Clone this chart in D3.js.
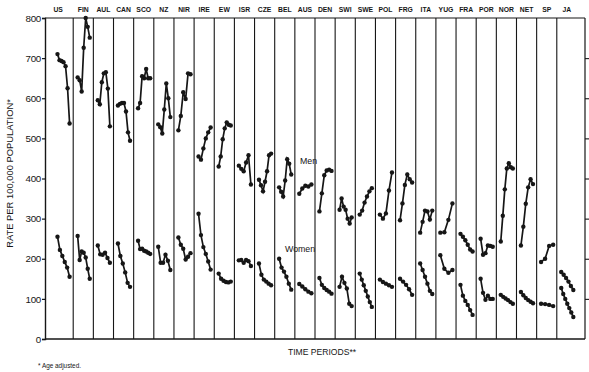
<!DOCTYPE html>
<html>
<head>
<meta charset="utf-8">
<script src="https://cdn.jsdelivr.net/npm/d3@7"></script>
<style>
  body { margin: 0; background: #fff; }
  svg { font-family: "Liberation Sans", Arial, sans-serif; }
</style>
</head>
<body>
<div id="chart"></div>
<script>
// countries, left to right
var countries = ["US","FIN","AUL","CAN","SCO","NZ","NIR","IRE","EW","ISR","CZE","BEL","AUS",
                 "DEN","SWI","SWE","POL","FRG","ITA","YUG","FRA","POR","NOR","NET","SP","JA"];

// rate per 100,000, one list per country, successive time periods
var menRates = [
  [710, 695, 693, 690, 680, 625, 537],
  [652, 645, 617, 726, 800, 778, 751],
  [595, 585, 640, 662, 665, 624, 530],
  [582, 586, 588, 588, 567, 515, 494],
  [575, 588, 655, 650, 673, 650, 650],
  [535, 528, 512, 572, 637, 600, 553],
  [520, 556, 615, 598, 662, 660],
  [455, 447, 475, 500, 515, 527],
  [430, 455, 498, 525, 540, 534, 532],
  [432, 424, 418, 440, 458, 385],
  [397, 383, 368, 392, 418, 458, 462],
  [378, 367, 355, 395, 448, 437, 410],
  [362, 375, 382, 380, 385],
  [318, 363, 408, 420, 422, 419],
  [322, 350, 330, 322, 300, 288, 303],
  [310, 320, 340, 355, 368, 376],
  [310, 300, 313, 370, 415],
  [296, 338, 384, 410, 398, 390],
  [265, 292, 320, 318, 298, 320],
  [265, 266, 297, 338],
  [262, 255, 246, 235, 223, 218],
  [250, 210, 214, 233, 232, 230],
  [243, 307, 373, 425, 438, 428, 425],
  [233, 280, 337, 378, 398, 386],
  [192, 200, 232, 235],
  [167, 160, 152, 143, 132, 122]
];

var womenRates = [
  [255, 222, 207, 192, 178, 155],
  [257, 197, 218, 215, 203, 175, 150],
  [233, 211, 210, 215, 202, 190],
  [238, 207, 188, 166, 140, 130],
  [245, 224, 225, 220, 218, 215, 212],
  [230, 190, 190, 210, 195, 172],
  [253, 235, 225, 198, 205, 214],
  [312, 259, 229, 212, 193, 173],
  [163, 150, 145, 142, 141, 143],
  [196, 197, 190, 197, 194, 182],
  [188, 160, 148, 143, 138, 134],
  [200, 178, 168, 155, 138, 123],
  [137, 131, 124, 118, 114],
  [152, 135, 127, 122, 118, 113],
  [130, 155, 140, 126, 88, 82],
  [163, 148, 134, 120, 106, 92, 80],
  [148, 142, 138, 134, 130],
  [150, 143, 135, 124, 110],
  [188, 172, 155, 138, 120, 112],
  [209, 175, 165, 172],
  [135, 108, 95, 85, 72, 60],
  [150, 115, 98, 108, 100, 100],
  [110, 105, 101, 97, 92, 88],
  [117, 109, 102, 97, 93, 89],
  [88, 87, 85, 82],
  [127, 112, 100, 88, 77, 66, 55]
];

var yTicks = [0, 100, 200, 300, 400, 500, 600, 700, 800];

var margin = {top: 18, right: 4, bottom: 33, left: 45},
    width = 589 - margin.left - margin.right,
    height = 372 - margin.top - margin.bottom;

var svg = d3.select("#chart").append("svg")
    .attr("width", 589)
    .attr("height", 372)
  .append("g")
    .attr("transform", "translate(" + margin.left + "," + margin.top + ")");

// one unit per country; first and last panel a bit wider
var x = d3.scaleLinear()
    .domain([-0.4, countries.length + 0.4])
    .range([0, width]);
var y = d3.scaleLinear()
    .domain([0, 800])
    .range([height, 0]);

var ink = "#161616";

// panel separators
svg.selectAll(".sep")
    .data(d3.range(1, countries.length))
    .enter().append("line")
    .attr("x1", function(d) { return x(d); })
    .attr("x2", function(d) { return x(d); })
    .attr("y1", 0)
    .attr("y2", height)
    .attr("stroke", ink)
    .attr("stroke-width", 1.1);

// frame: top, bottom, right
svg.append("line").attr("x1", 0).attr("x2", width).attr("y1", 0).attr("y2", 0)
    .attr("stroke", ink).attr("stroke-width", 1.2);
svg.append("line").attr("x1", 0).attr("x2", width).attr("y1", height).attr("y2", height)
    .attr("stroke", ink).attr("stroke-width", 1.5);
svg.append("line").attr("x1", width).attr("x2", width).attr("y1", 0).attr("y2", height)
    .attr("stroke", ink).attr("stroke-width", 1.2);

// left axis
var yAxis = svg.append("g")
    .call(d3.axisLeft(y).tickValues(yTicks).tickSize(3).tickPadding(1).tickFormat(d3.format("d")));
yAxis.select(".domain").attr("stroke", ink).attr("stroke-width", 1.4);
yAxis.selectAll(".tick line").attr("stroke", ink).attr("stroke-width", 1.2);
yAxis.selectAll("text").attr("font-size", 9.8).attr("fill", ink).attr("letter-spacing", -0.3);

// right axis, inside ticks
var yRight = svg.append("g")
    .attr("transform", "translate(" + width + ",0)")
    .call(d3.axisLeft(y).tickValues(yTicks.slice(1, 8)).tickSize(-7).tickFormat(""));
yRight.select(".domain").remove();
yRight.selectAll(".tick line").attr("stroke", ink).attr("stroke-width", 1.1);

// country labels
svg.selectAll(".clab")
    .data(countries)
    .enter().append("text")
    .attr("x", function(d, i) { return x(i + 0.5) + (i == 0 ? -5 : 0); })
    .attr("y", -6)
    .attr("text-anchor", "middle")
    .attr("font-size", 6.8)
    .attr("font-weight", "bold")
    .attr("fill", ink)
    .text(function(d) { return d; });

// x position of point j of n in panel i
var px = function(i, j, n) {
  return x(i + 0.22 + 0.6 * j / (n - 1));
};

var line = d3.line()
    .x(function(d) { return d.x; })
    .y(function(d) { return y(d.v); });

var drawSeries = function(rates) {
  rates.forEach(function(vals, i) {
    var pts = vals.map(function(v, j) { return {x: px(i, j, vals.length), v: v}; });
    svg.append("path")
        .datum(pts)
        .attr("d", line)
        .attr("fill", "none")
        .attr("stroke", ink)
        .attr("stroke-width", 1.7);
    svg.selectAll(null)
        .data(pts)
        .enter().append("circle")
        .attr("cx", function(d) { return d.x; })
        .attr("cy", function(d) { return y(d.v); })
        .attr("r", 2.2)
        .attr("fill", ink);
  });
};
drawSeries(menRates);
drawSeries(womenRates);

// series labels
svg.append("text").attr("x", 255).attr("y", y(435)).attr("font-size", 8.8).attr("fill", ink).text("Men");
svg.append("text").attr("x", 240).attr("y", y(218)).attr("font-size", 8.8).attr("fill", ink).text("Women");

// axis titles
svg.append("text")
    .attr("transform", "translate(-32," + (height / 2 - 5) + ") rotate(-90)")
    .attr("text-anchor", "middle")
    .attr("font-size", 9.4)
    .attr("fill", ink)
    .text("RATE PER 100,000 POPULATION*");

svg.append("text")
    .attr("x", x(13.35))
    .attr("y", height + 16)
    .attr("text-anchor", "middle")
    .attr("font-size", 8.6)
    .attr("fill", ink)
    .text("TIME PERIODS**");

svg.append("text")
    .attr("x", -7)
    .attr("y", height + 29)
    .attr("font-size", 6.4)
    .attr("fill", ink)
    .text("* Age adjusted.");
</script>
</body>
</html>
